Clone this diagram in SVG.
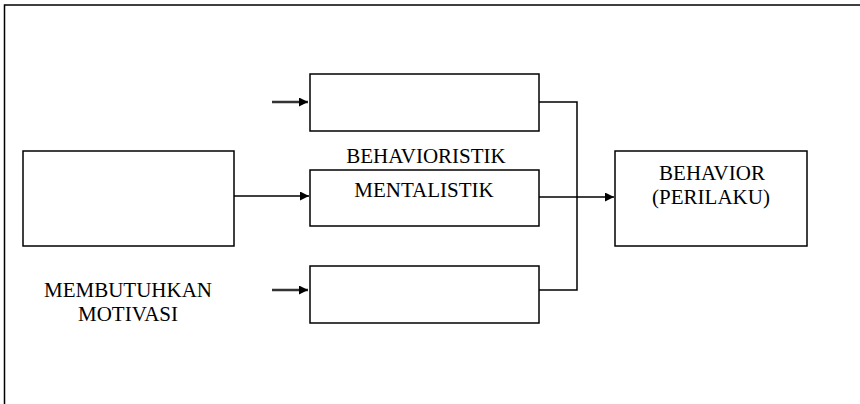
<svg xmlns="http://www.w3.org/2000/svg" width="860" height="404" viewBox="0 0 860 404">
<style>
.box{fill:#fff;stroke:#000;stroke-width:1.5}
.ln{fill:none;stroke:#000;stroke-width:1.5}
.gl{fill:none;stroke:#333;stroke-width:2.5}
.t{font-family:'Liberation Serif','DejaVu Serif',serif;font-size:21px;fill:#000;text-anchor:middle}
</style>
<defs>
<marker id="ah" viewBox="0 0 10 10" refX="10" refY="5" markerWidth="11" markerHeight="9" markerUnits="userSpaceOnUse" orient="auto">
<path d="M0,0 L10,5 L0,10 z" fill="#000"/>
</marker>
</defs>
<rect width="860" height="404" fill="#fff"/>
<g id="frame">
<path class="ln" d="M4.5,404 V5 H860"/>
</g>
<g id="motivasi">
<rect class="box" x="23" y="151" width="211" height="95"/>
<text class="t" x="128" y="297">MEMBUTUHKAN</text>
<text class="t" x="128" y="321">MOTIVASI</text>
</g>
<g id="top">
<rect class="box" x="310" y="74" width="229" height="57"/>
</g>
<g id="middle">
<rect class="box" x="310" y="170" width="229" height="56"/>
<text class="t" x="426" y="163">BEHAVIORISTIK</text>
<text class="t" x="424" y="197">MENTALISTIK</text>
</g>
<g id="bottom">
<rect class="box" x="310" y="266" width="229" height="57"/>
</g>
<g id="behavior">
<rect class="box" x="615" y="151" width="192" height="95"/>
<text class="t" x="712" y="180">BEHAVIOR</text>
<text class="t" x="711" y="204">(PERILAKU)</text>
</g>
<g id="connectors">
<line class="gl" x1="272" y1="102" x2="308" y2="102" marker-end="url(#ah)"/>
<line class="gl" x1="272" y1="290" x2="308" y2="290" marker-end="url(#ah)"/>
<line class="ln" x1="234" y1="196" x2="309" y2="196" marker-end="url(#ah)"/>
<path class="ln" d="M539,102 H577 V290 H539"/>
<line class="ln" x1="539" y1="197" x2="614" y2="197" marker-end="url(#ah)"/>
</g>
</svg>
